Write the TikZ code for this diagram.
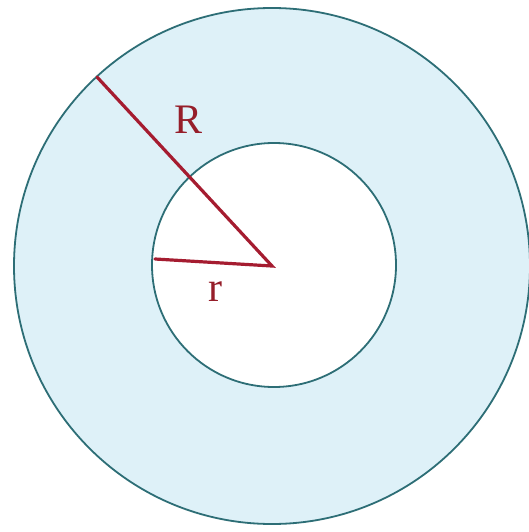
\documentclass[tikz,border=0pt]{standalone}
\usepackage{fontspec}
\setmainfont{Liberation Serif}
\definecolor{ringfill}{RGB}{222,241,248}
\definecolor{ringline}{RGB}{45,110,118}
\definecolor{radline}{RGB}{165,28,48}
\definecolor{labtext}{RGB}{150,30,42}
\tikzset{
  circ/.style={draw=ringline, line width=1.8pt},
  rad/.style={draw=radline, line width=3.2pt, line cap=round},
  lab/.style={text=labtext, font=\fontsize{42}{42}\selectfont, inner sep=0pt}
}
\begin{document}
\begin{tikzpicture}[x=1pt,y=-1pt]
\useasboundingbox (0,0) rectangle (528,532);
\fill[white] (0,0) rectangle (528,532);
\coordinate (O) at (272,266);
\draw[circ, fill=ringfill] (O) circle (258);
\draw[circ, fill=white] (274,265) circle (122);
\coordinate (Rend) at (97,77);
\coordinate (rend) at (155,259);
\draw[rad] (Rend) -- (O) -- (rend);
\node[lab] (Rlab) at (189,120) {R};
\node[lab] (rlab) at (215,292) {r};
\end{tikzpicture}
\end{document}
